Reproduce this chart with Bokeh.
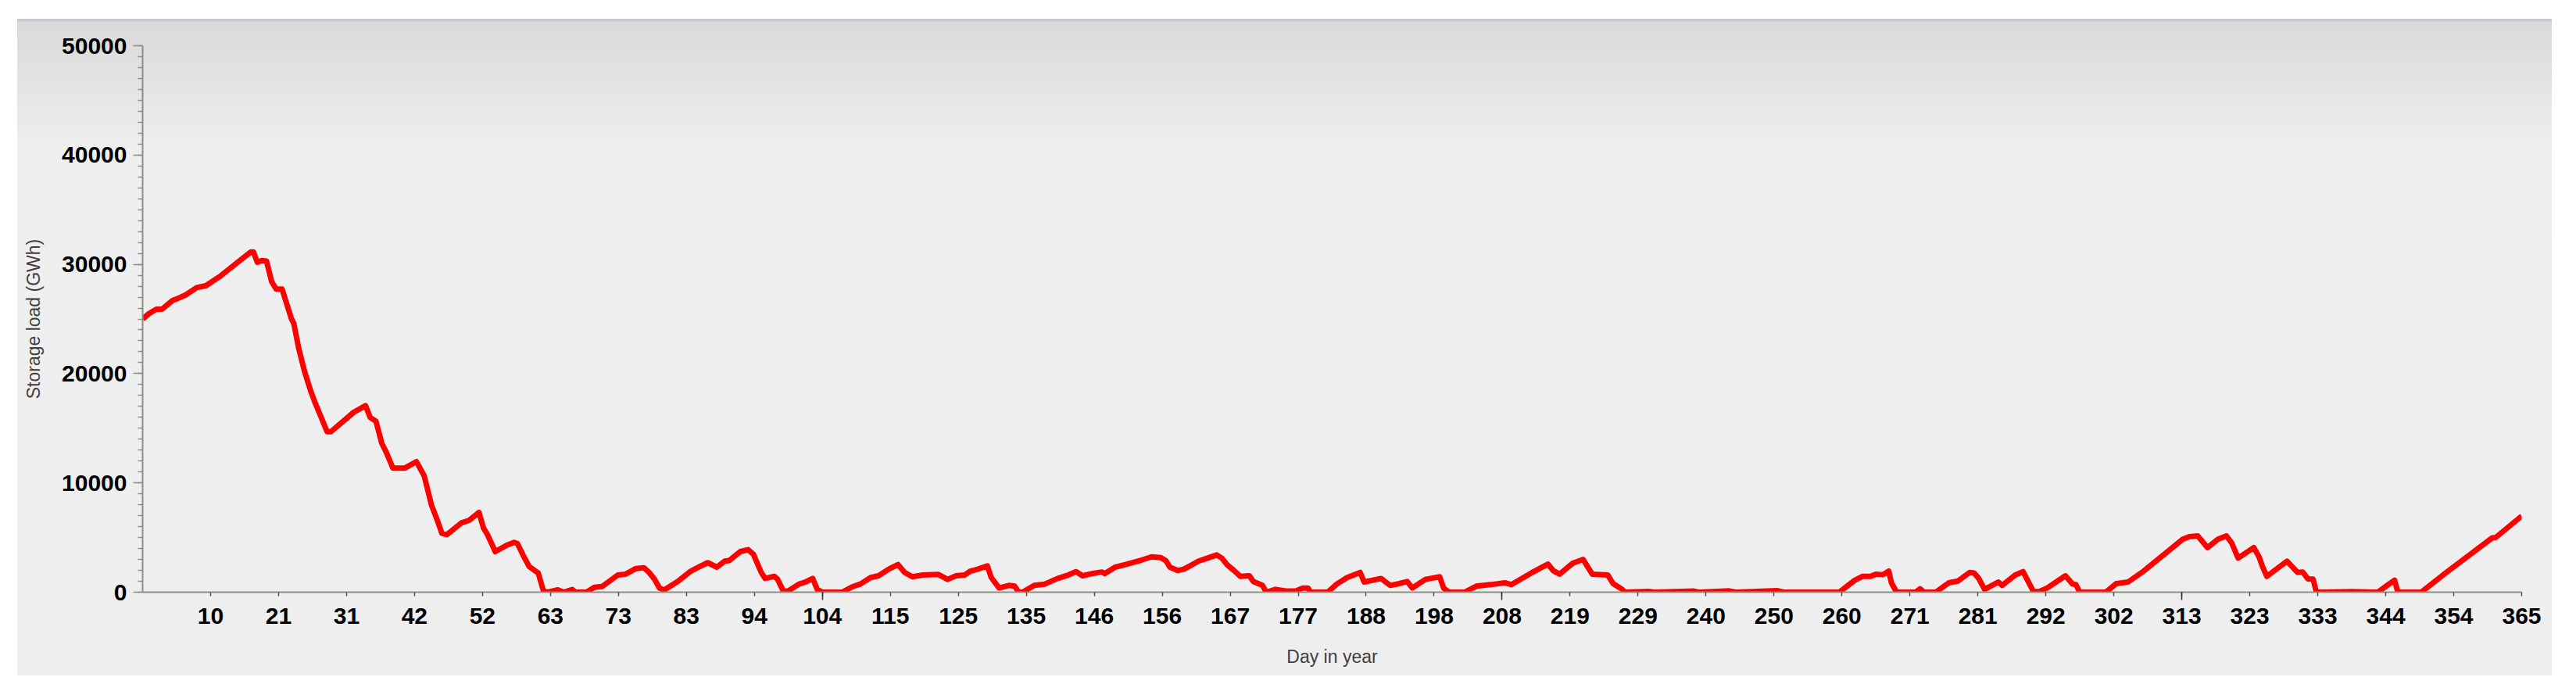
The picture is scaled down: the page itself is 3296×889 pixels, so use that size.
from bokeh.plotting import figure
from bokeh.models import FixedTicker, Range1d, Spacer
from bokeh.layouts import column, row
from bokeh.embed import file_html
from bokeh.resources import INLINE

# ---- data ----
day = [0.0, 1.0, 2.1, 3.0, 4.6, 5.3, 6.6, 8.3, 9.7, 11.8, 14.2, 16.6, 17.0, 17.6, 18.3, 19.0,
       19.8, 20.5, 21.4, 22.8, 23.2, 23.9, 24.8, 25.8, 26.4, 28.3, 28.9, 32.4, 34.2, 34.9,
       35.8, 36.7, 37.4, 38.4, 40.2, 42.0, 43.2, 44.3, 45.2, 45.9, 46.7, 48.9, 50.1, 51.6,
       52.3, 52.9, 54.1, 55.9, 57.0, 57.5, 58.4, 59.3, 60.3, 60.7, 61.5, 62.2, 63.7, 64.6,
       65.9, 66.4, 68.1, 69.3, 70.5, 72.9, 74.1, 75.7, 76.9, 77.7, 78.5, 79.3, 80.0, 82.1,
       84.1, 85.3, 86.7, 88.1, 89.3, 90.0, 91.7, 92.9, 93.7, 94.9, 95.5, 96.9, 97.4, 98.3,
       99.0, 100.7, 101.7, 102.8, 103.5, 104.3, 107.3, 108.9, 110.1, 111.7, 112.9, 114.5,
       115.9, 116.9, 118.1, 119.7, 122.1, 123.5, 124.8, 126.1, 127.0, 128.2, 129.6, 130.2,
       131.4, 132.9, 133.8, 134.4, 135.0, 136.8, 138.4, 140.4, 142.0, 143.2, 144.2, 146.0,
       147.2, 147.6, 149.2, 150.8, 153.2, 154.8, 156.2, 157.0, 157.6, 158.8, 159.8, 162.0,
       163.2, 164.8, 165.6, 166.4, 167.4, 168.4, 169.8, 170.4, 171.8, 172.4, 173.8, 175.6,
       177.0, 178.0, 178.8, 179.2, 181.8, 183.2, 184.8, 186.8, 187.4, 190.0, 191.4, 192.8,
       194.0, 194.8, 196.8, 199.0, 199.6, 200.4, 202.8, 204.6, 206.8, 209.0, 210.0, 213.2,
       215.6, 216.4, 217.4, 219.4, 221.0, 222.4, 224.8, 225.6, 227.0, 227.4, 231.0, 232.0,
       238.0, 238.8, 243.4, 244.5, 250.7, 251.8, 260.3, 262.7, 263.9, 265.1, 265.9, 267.0,
       267.9, 268.3, 269.1, 272.0, 272.7, 273.3, 275.1, 277.1, 278.5, 280.3, 281.0, 281.7,
       282.6, 284.7, 285.3, 287.3, 288.5, 290.1, 291.0, 292.2, 295.0, 296.1, 296.6, 297.2,
       301.2, 302.8, 304.6, 307.0, 313.0, 314.0, 315.3, 316.8, 318.4, 319.7, 320.5, 321.5,
       323.9, 324.7, 325.2, 325.9, 329.0, 330.6, 331.4, 332.2, 333.0, 333.5, 339.0, 342.9,
       345.5, 346.0, 349.6, 353.2, 360.5, 361.0, 364.7, 365.0]
storage = [25000, 25500, 25900, 25900, 26700, 26850, 27200, 27870, 28040, 28870, 30000, 31140,
           31140, 30190, 30350, 30300, 28400, 27730, 27730, 25060, 24580, 22440, 20290, 18380,
           17430, 14690, 14690, 16470, 17070, 16000, 15640, 13610, 12780, 11350, 11350, 11950,
           10640, 8000, 6600, 5390, 5270, 6340, 6580, 7300, 5870, 5270, 3720, 4310, 4560, 4450,
           3360, 2350, 1930, 1750, 100, 0, 220, 0, 250, 0, 0, 450, 520, 1570, 1650, 2170, 2240,
           1810, 1220, 380, 200, 980, 1930, 2290, 2700, 2290, 2840, 2900, 3720, 3890, 3480,
           1810, 1260, 1450, 1200, 100, 100, 740, 930, 1260, 260, 0, 0, 500, 740, 1340, 1500,
           2120, 2530, 1810, 1410, 1570, 1620, 1170, 1500, 1570, 1930, 2120, 2410, 1340, 380,
           620, 550, 0, 0, 620, 740, 1260, 1570, 1880, 1500, 1740, 1850, 1700, 2290, 2530, 2930,
           3240, 3170, 2880, 2290, 1980, 2120, 2840, 3080, 3410, 3100, 2500, 2000, 1450, 1500,
           980, 620, 0, 260, 100, 120, 380, 380, 0, 0, 740, 1340, 1810, 930, 1260, 620, 790,
           980, 380, 1170, 1410, 380, 0, 0, 550, 690, 860, 690, 1810, 2570, 1980, 1650, 2650,
           3000, 1650, 1570, 790, 260, 0, 80, 0, 100, 0, 120, 0, 150, 0, 0, 1100, 1450, 1450,
           1650, 1600, 1930, 860, 0, 0, 310, 0, 0, 860, 1020, 1810, 1750, 1260, 260, 930, 620,
           1570, 1880, 50, 50, 380, 1500, 740, 700, 0, 0, 790, 930, 1930, 4840, 5080, 5150,
           4080, 4840, 5150, 4510, 3120, 4080, 3240, 2410, 1450, 2840, 1810, 1850, 1220, 1200,
           0, 60, 0, 1100, 0, 0, 1690, 4980, 5000, 6820, 6950]

x_tick_labels = ["10", "21", "31", "42", "52", "63", "73", "83", "94", "104", "115", "125",
                 "135", "146", "156", "167", "177", "188", "198", "208", "219", "229", "240",
                 "250", "260", "271", "281", "292", "302", "313", "323", "333", "344", "354",
                 "365"]
x_long_tick_labels = ["104", "208", "313"]
y_ticks = [0, 10000, 20000, 30000, 40000, 50000]
y_minor_ticks = list(range(0, 50001, 1000))

n = len(x_tick_labels)
x_ticks = [365.0 * (i + 1) / n for i in range(n)]
x_long = [x_ticks[x_tick_labels.index(s)] for s in x_long_tick_labels]

p = figure(width=3243, height=840, output_backend="svg", toolbar_location=None,
           x_range=Range1d(0, 365), y_range=Range1d(0, 50000),
           min_border_left=160, min_border_right=39, min_border_top=34, min_border_bottom=107)
p.styles = {"background": "linear-gradient(to bottom, #c4c9d3 0px, #c4c9d3 3px, #d9d9d9 4px, "
                          "#efefef 170px, #eeeeee 100%)"}
p.border_fill_alpha = 0
p.background_fill_alpha = 0
p.outline_line_color = None
p.grid.visible = False

p.line(day, storage, line_color="#ff0000", line_width=7, line_join="round")

axis_col = "#8e8e84"
tick_font = "Liberation Sans"

xa = p.xaxis[0]
xa.ticker = FixedTicker(ticks=x_ticks, minor_ticks=x_long)
xa.major_label_overrides = {t: s for t, s in zip(x_ticks, x_tick_labels)}
xa.axis_line_color = axis_col
xa.axis_line_width = 2
xa.major_tick_in = 0
xa.major_tick_out = 5
xa.major_tick_line_color = "#505050"
xa.major_tick_line_width = 1.5
xa.minor_tick_in = 0
xa.minor_tick_out = 10
xa.minor_tick_line_color = "#303030"
xa.minor_tick_line_width = 1.5
xa.major_label_standoff = 10
xa.major_label_text_font = tick_font
xa.major_label_text_font_style = "bold"
xa.major_label_text_font_size = "30px"
xa.major_label_text_color = "#000000"
xa.axis_label = "Day in year"
xa.axis_label_text_font = tick_font
xa.axis_label_text_font_style = "normal"
xa.axis_label_text_font_size = "23px"
xa.axis_label_text_color = "#404040"
xa.axis_label_standoff = 26

ya = p.yaxis[0]
ya.ticker = FixedTicker(ticks=y_ticks, minor_ticks=y_minor_ticks)
ya.axis_line_color = axis_col
ya.axis_line_width = 2
ya.major_tick_in = 0
ya.major_tick_out = 12
ya.major_tick_line_color = axis_col
ya.major_tick_line_width = 1.5
ya.minor_tick_in = 0
ya.minor_tick_out = 6
ya.minor_tick_line_color = axis_col
ya.minor_tick_line_width = 1.5
ya.major_label_standoff = 8
ya.major_label_text_font = tick_font
ya.major_label_text_font_style = "bold"
ya.major_label_text_font_size = "30px"
ya.major_label_text_color = "#000000"
ya.axis_label = "Storage load (GWh)"
ya.axis_label_text_font = tick_font
ya.axis_label_text_font_style = "normal"
ya.axis_label_text_font_size = "23px"
ya.axis_label_text_color = "#404040"
ya.axis_label_standoff = 20

layout = column(Spacer(height=24), row(Spacer(width=22), p))
open("out.html", "w").write(file_html(layout, INLINE))
